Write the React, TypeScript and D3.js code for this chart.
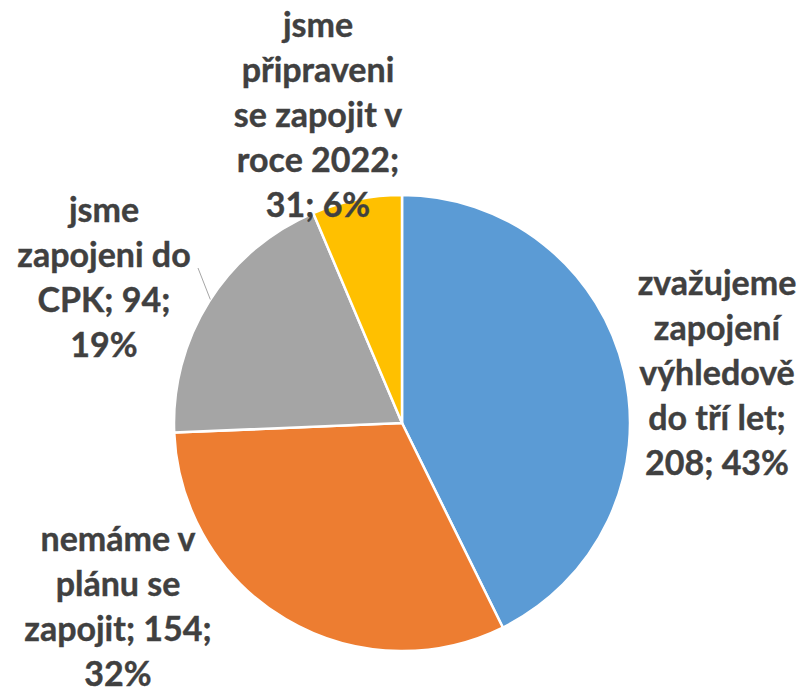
import React from "react";
import * as d3 from "d3";

const categories = [
  "zvažujeme zapojení výhledově do tří let",
  "nemáme v plánu se zapojit",
  "jsme zapojeni do CPK",
  "jsme připraveni se zapojit v roce 2022",
];
const values = [208, 154, 94, 31];
const percents = ["43%", "32%", "19%", "6%"];
const colors = ["#5B9BD5", "#ED7D31", "#A5A5A5", "#FFC000"];
const labelLines = [
  ["zvažujeme", "zapojení", "výhledově", "do tří let;", "208; 43%"],
  ["nemáme v", "plánu se", "zapojit; 154;", "32%"],
  ["jsme", "zapojeni do", "CPK; 94;", "19%"],
  ["jsme", "připraveni", "se zapojit v", "roce 2022;", "31; 6%"],
];
// layout: label center x and first baseline y
const labelPos = [
  { x: 717, y: 295 },
  { x: 118, y: 551 },
  { x: 104, y: 222 },
  { x: 318, y: 37 },
];

const W = 804;
const H = 691;
const cx = 402;
const cy = 423;
const R = 228;
const LH = 45;

export default function App() {
  const pie = d3.pie<number>().sort(null).value((d) => d);
  const arcs = pie(values);
  const arc = d3.arc<d3.PieArcDatum<number>>().innerRadius(0).outerRadius(R);

  // leader line for the gray slice
  const leadA = Math.atan2(298 - cy, 208 - cx);
  const lx2 = cx + R * Math.cos(leadA);
  const ly2 = cy + R * Math.sin(leadA);

  return (
    <svg
      width={W}
      height={H}
      style={{ position: "absolute", left: 0, top: 0, background: "#fff" }}
      fontFamily="Lato, 'Open Sans', sans-serif"
    >
      <g transform={`translate(${cx},${cy})`}>
        {arcs.map((a, i) => (
          <path
            key={categories[i]}
            d={arc(a) || ""}
            fill={colors[i]}
            stroke="#fff"
            strokeWidth={2.5}
            strokeLinejoin="round"
          />
        ))}
      </g>
      <line x1={198} y1={268} x2={lx2} y2={ly2} stroke="#A6A6A6" strokeWidth={1} />
      {labelLines.map((lines, i) => (
        <text
          key={i}
          x={labelPos[i].x}
          y={labelPos[i].y}
          textAnchor="middle"
          fontSize={34}
          fontWeight="bold"
          fill="#404040"
          stroke="#404040"
          strokeWidth={0.4}
        >
          {lines.map((l, j) => (
            <tspan key={j} x={labelPos[i].x} dy={j === 0 ? 0 : LH}>
              {l}
            </tspan>
          ))}
        </text>
      ))}
    </svg>
  );
}
